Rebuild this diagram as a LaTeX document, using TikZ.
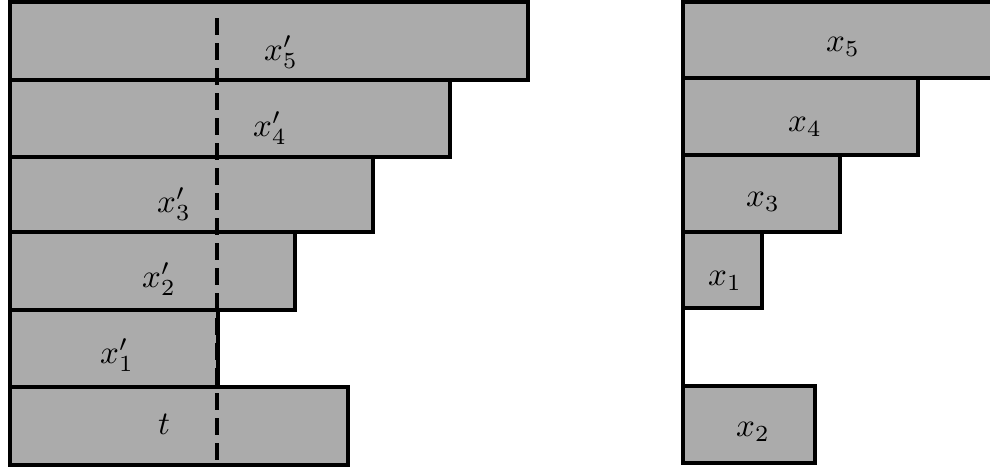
\documentclass[tikz,border=0pt]{standalone}
\usepackage{amsmath}
\tikzset{
  bar/.style={draw=black, line width=3.2pt, fill=black!33},
  lbl/.style={inner sep=0pt, scale=3.3},
  cut/.style={draw=black, line width=3.4pt, dash pattern=on 17pt off 8pt},
  edge/.style={draw=black, line width=3.2pt}
}
\begin{document}
\begin{tikzpicture}[x=1pt,y=-1pt]
\useasboundingbox (0,0) rectangle (990,467);
% left stack
\path[bar] (10,2) rectangle (528,80);
\path[bar] (10,80) rectangle (450,157);
\path[bar] (10,157) rectangle (373,232);
\path[bar] (10,232) rectangle (295,310);
\path[bar] (10,310) rectangle (218,387);
\path[bar] (10,387) rectangle (348,465);
\coordinate (ctop) at (217,18);
\coordinate (cbot) at (217,465);
\draw[cut] (ctop) -- (cbot);
\node[lbl] (lx5) at (281,52) {$x'_5$};
\node[lbl] (lx4) at (270,128) {$x'_4$};
\node[lbl] (lx3) at (174,204) {$x'_3$};
\node[lbl] (lx2) at (159,279) {$x'_2$};
\node[lbl] (lx1) at (117,355) {$x'_1$};
\node[lbl] (lt) at (164,424) {$t$};
% right stack
\path[bar] (683,2) rectangle (1000,78);
\path[bar] (683,78) rectangle (918,155);
\path[bar] (683,155) rectangle (840,232);
\path[bar] (683,232) rectangle (762,308);
\coordinate (ga) at (683,308);
\coordinate (gb) at (683,386);
\draw[edge] (ga) -- (gb);
\path[bar] (683,386) rectangle (815,463);
\node[lbl] (rx5) at (843,47) {$x_5$};
\node[lbl] (rx4) at (805,127) {$x_4$};
\node[lbl] (rx3) at (763,202) {$x_3$};
\node[lbl] (rx1) at (725,281) {$x_1$};
\node[lbl] (rx2) at (753,432) {$x_2$};
\end{tikzpicture}
\end{document}
